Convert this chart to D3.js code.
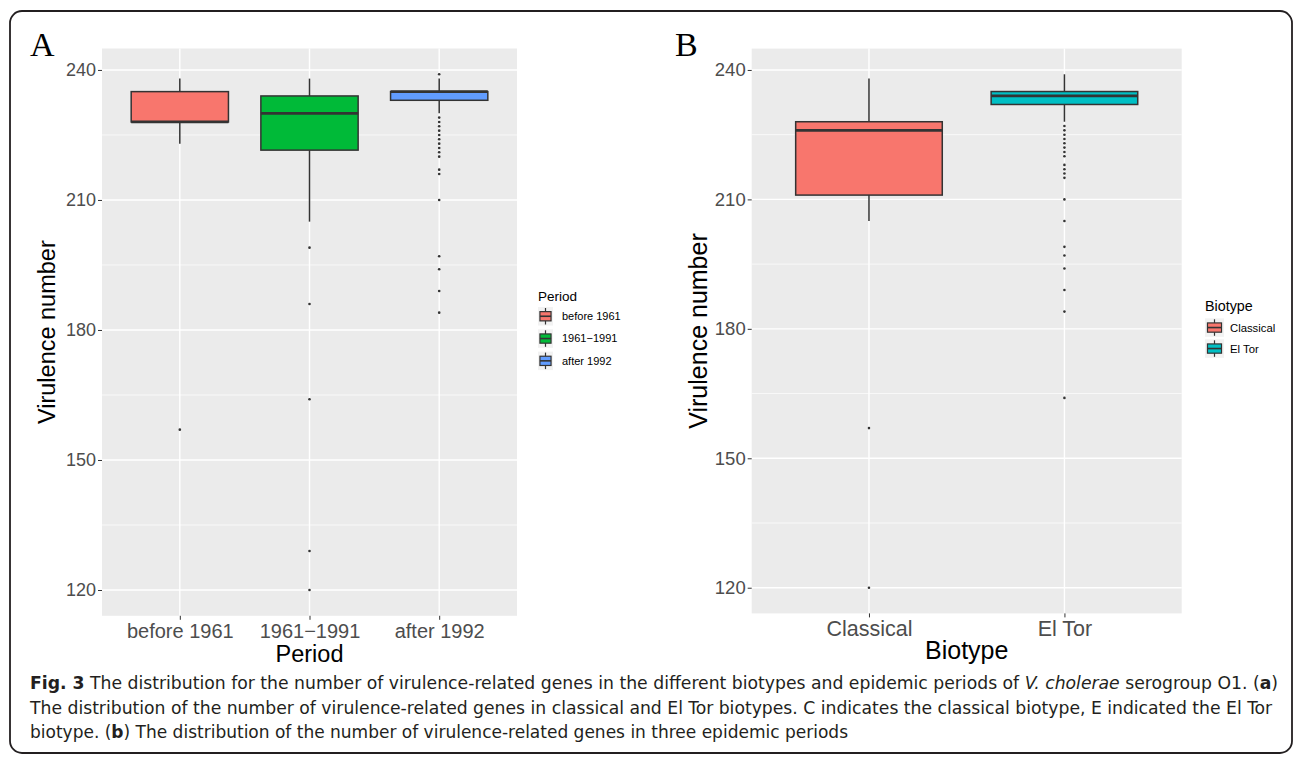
<!DOCTYPE html>
<html><head><meta charset="utf-8">
<script src="https://cdn.jsdelivr.net/npm/d3@7"></script>
<style>body{margin:0;background:#fff;} svg{display:block;}</style>
</head><body>
<svg id="fig" width="1295" height="758"></svg>
<script>
// ---------- DATA ----------
const yTicks = [120, 150, 180, 210, 240];

const periodCategories = ["before 1961", "1961\u22121991", "after 1992"];
const periodQ1     = [228, 221.5, 233];
const periodMedian = [228, 230, 235];
const periodQ3     = [235, 234, 235];
const periodLower  = [223, 205, 230];
const periodUpper  = [238, 238, 238];
const periodOutliers = [
  [157],
  [199, 186, 164, 129, 120],
  [239, 229, 228, 227, 226, 225, 224, 223, 222, 221, 220, 217, 216, 210, 197, 194, 189, 184]
];
const periodColors = ["#F8766D", "#00BA38", "#619CFF"];

const biotypeCategories = ["Classical", "El Tor"];
const biotypeQ1     = [211, 232];
const biotypeMedian = [226, 234];
const biotypeQ3     = [228, 235];
const biotypeLower  = [205, 228];
const biotypeUpper  = [238, 239];
const biotypeOutliers = [
  [157, 120],
  [227, 226, 225, 224, 223, 222, 221, 220, 218, 217, 216, 215, 210, 205, 199, 197, 194, 189, 184, 164]
];
const biotypeColors = ["#F8766D", "#00BFC4"];

// ---------- DRAWING ----------
const svg = d3.select("#fig");
const SANS = "'Liberation Sans', Arial, Helvetica, sans-serif";
const DARK = "#333333";

svg.append("rect").attr("x", 10).attr("y", 11).attr("width", 1282).attr("height", 742)
  .attr("rx", 12).attr("fill", "none").attr("stroke", "#231f20").attr("stroke-width", 1.8);

function drawPanel(o) {
  const g = svg.append("g");
  const n = o.categories.length;
  const allVals = [].concat(o.lower, o.upper, o.q1, o.q3, ...o.outliers);
  const mn = d3.min(allVals), mx = d3.max(allVals), pad = (mx - mn) * 0.05;
  const y = d3.scaleLinear().domain([mn - pad, mx + pad]).range([o.y1, o.y0]);
  const x = d3.scaleLinear().domain([0.4, n + 0.6]).range([o.x0, o.x1]);
  const bw = x(1.375) - x(1);

  g.append("rect").attr("x", o.x0).attr("y", o.y0).attr("width", o.x1 - o.x0).attr("height", o.y1 - o.y0)
    .attr("fill", "#EBEBEB");
  const minor = d3.pairs(yTicks).map(p => (p[0] + p[1]) / 2);
  g.selectAll(".minor").data(minor).join("line")
    .attr("x1", o.x0).attr("x2", o.x1).attr("y1", d => y(d)).attr("y2", d => y(d))
    .attr("stroke", "#fff").attr("stroke-width", 0.7);
  g.selectAll(".majory").data(yTicks).join("line")
    .attr("x1", o.x0).attr("x2", o.x1).attr("y1", d => y(d)).attr("y2", d => y(d))
    .attr("stroke", "#fff").attr("stroke-width", 1.4);
  g.selectAll(".majorx").data(d3.range(1, n + 1)).join("line")
    .attr("x1", d => x(d)).attr("x2", d => x(d)).attr("y1", o.y0).attr("y2", o.y1)
    .attr("stroke", "#fff").attr("stroke-width", 1.4);

  const ya = g.append("g").attr("transform", `translate(${o.x0},0)`)
    .call(d3.axisLeft(y).tickValues(yTicks).tickSize(4).tickPadding(o.yPad).tickFormat(d3.format("d")));
  ya.select(".domain").remove();
  ya.selectAll("line").attr("stroke", DARK);
  ya.selectAll("text").attr("fill", "#4D4D4D").style("font-family", SANS).style("font-size", o.yTickSize + "px");

  const xa = g.append("g").attr("transform", `translate(0,${o.y1})`)
    .call(d3.axisBottom(x).tickValues(d3.range(1, n + 1)).tickSize(4).tickPadding(o.xPad)
      .tickFormat(d => o.categories[d - 1]));
  xa.select(".domain").remove();
  xa.selectAll("line").attr("stroke", DARK);
  xa.selectAll("text").attr("fill", "#4D4D4D").style("font-family", SANS).style("font-size", o.xTickSize + "px");

  o.categories.forEach((c, i) => {
    const cx = x(i + 1);
    g.append("line").attr("x1", cx).attr("x2", cx).attr("y1", y(o.upper[i])).attr("y2", y(o.q3[i]))
      .attr("stroke", DARK).attr("stroke-width", 1.5);
    g.append("line").attr("x1", cx).attr("x2", cx).attr("y1", y(o.q1[i])).attr("y2", y(o.lower[i]))
      .attr("stroke", DARK).attr("stroke-width", 1.5);
    g.append("rect").attr("x", cx - bw).attr("width", 2 * bw)
      .attr("y", y(o.q3[i])).attr("height", y(o.q1[i]) - y(o.q3[i]))
      .attr("fill", o.colors[i]).attr("stroke", DARK).attr("stroke-width", 1.5);
    g.append("line").attr("x1", cx - bw).attr("x2", cx + bw).attr("y1", y(o.median[i])).attr("y2", y(o.median[i]))
      .attr("stroke", DARK).attr("stroke-width", 2.8);
    g.selectAll(null).data(o.outliers[i]).join("circle")
      .attr("cx", cx).attr("cy", d => y(d)).attr("r", 1.3).attr("fill", DARK);
  });

  svg.append("text").attr("x", (o.x0 + o.x1) / 2).attr("y", o.xTitleY).attr("text-anchor", "middle")
    .style("font-family", SANS).style("font-size", o.titleSize + "px").attr("fill", "#000").text(o.xTitle);
  svg.append("text").attr("transform", `translate(${o.yTitleX},${(o.y0 + o.y1) / 2}) rotate(-90)`)
    .attr("text-anchor", "middle")
    .style("font-family", SANS).style("font-size", o.titleSize + "px").attr("fill", "#000").text("Virulence number");

  svg.append("text").attr("x", o.letterX).attr("y", 56).style("font-family", "'Liberation Serif', 'Times New Roman', serif")
    .style("font-size", "34px").attr("fill", "#000").text(o.letter);

  const L = o.legend;
  svg.append("text").attr("x", L.x).attr("y", L.titleY).style("font-family", SANS)
    .style("font-size", L.titleSize + "px").attr("fill", "#000").text(L.title);
  o.categories.forEach((c, i) => {
    const ky = L.keyY + i * L.step;
    const kx = L.x;
    svg.append("rect").attr("x", kx).attr("y", ky).attr("width", L.kw).attr("height", L.kh).attr("fill", "#F2F2F2");
    const cxk = kx + L.kw / 2;
    svg.append("line").attr("x1", cxk).attr("x2", cxk).attr("y1", ky + 1).attr("y2", ky + L.kh - 1)
      .attr("stroke", DARK).attr("stroke-width", 1.2);
    const bx = kx + L.kw * 0.13, bwk = L.kw * 0.74, by = ky + L.kh * 0.25, bh = L.kh * 0.5;
    svg.append("rect").attr("x", bx).attr("y", by).attr("width", bwk).attr("height", bh)
      .attr("fill", o.colors[i]).attr("stroke", DARK).attr("stroke-width", 1.2);
    svg.append("line").attr("x1", bx).attr("x2", bx + bwk).attr("y1", ky + L.kh / 2).attr("y2", ky + L.kh / 2)
      .attr("stroke", DARK).attr("stroke-width", 1.6);
    svg.append("text").attr("x", kx + L.kw + L.gap).attr("y", ky + L.kh / 2).attr("dy", "0.35em")
      .style("font-family", SANS).style("font-size", L.textSize + "px").attr("fill", "#000").text(c);
  });
}

drawPanel({
  letter: "A", letterX: 30,
  x0: 102, x1: 517, y0: 48.5, y1: 615.8,
  categories: periodCategories, q1: periodQ1, median: periodMedian, q3: periodQ3,
  lower: periodLower, upper: periodUpper, outliers: periodOutliers, colors: periodColors,
  yTickSize: 18, xTickSize: 20, titleSize: 23.5, yPad: 2, xPad: 4,
  xTitle: "Period", xTitleY: 662, yTitleX: 55,
  legend: { x: 538, title: "Period", titleY: 301, titleSize: 13.5, keyY: 307, step: 22.3, kw: 15, kh: 18.5, gap: 9, textSize: 11 }
});

drawPanel({
  letter: "B", letterX: 675,
  x0: 751.7, x1: 1181.7, y0: 48.6, y1: 613.4,
  categories: biotypeCategories, q1: biotypeQ1, median: biotypeMedian, q3: biotypeQ3,
  lower: biotypeLower, upper: biotypeUpper, outliers: biotypeOutliers, colors: biotypeColors,
  yTickSize: 18.5, xTickSize: 21.5, titleSize: 25, yPad: 2, xPad: 3,
  xTitle: "Biotype", xTitleY: 659, yTitleX: 707,
  legend: { x: 1205, title: "Biotype", titleY: 311, titleSize: 14.3, keyY: 318.3, step: 21, kw: 19, kh: 18.5, gap: 6, textSize: 11.3 }
});

// caption
const CAP = "'Liberation Sans Narrow', 'DejaVu Sans Condensed', 'Liberation Sans', sans-serif";
const capLines = [
  { y: 689, len: 1248, parts: [["Fig. 3", "b"], [" The distribution for the number of virulence-related genes in the different biotypes and epidemic periods of ", ""], ["V. cholerae", "i"], [" serogroup O1. (", ""], ["a", "b"], [")", ""]] },
  { y: 714, len: 1242, parts: [["The distribution of the number of virulence-related genes in classical and El Tor biotypes. C indicates the classical biotype, E indicated the El Tor", ""]] },
  { y: 738, len: 818, parts: [["biotype. (", ""], ["b", "b"], [") The distribution of the number of virulence-related genes in three epidemic periods", ""]] }
];
capLines.forEach(l => {
  const t = svg.append("text").attr("x", 30).attr("y", l.y).attr("textLength", l.len)
    .attr("lengthAdjust", "spacingAndGlyphs")
    .style("font-family", CAP).style("font-size", "17px").attr("fill", "#231f20");
  l.parts.forEach(p => {
    const s = t.append("tspan").text(p[0]);
    if (p[1] === "b") s.style("font-weight", "bold");
    if (p[1] === "i") s.style("font-style", "italic");
  });
});
</script>
</body></html>
